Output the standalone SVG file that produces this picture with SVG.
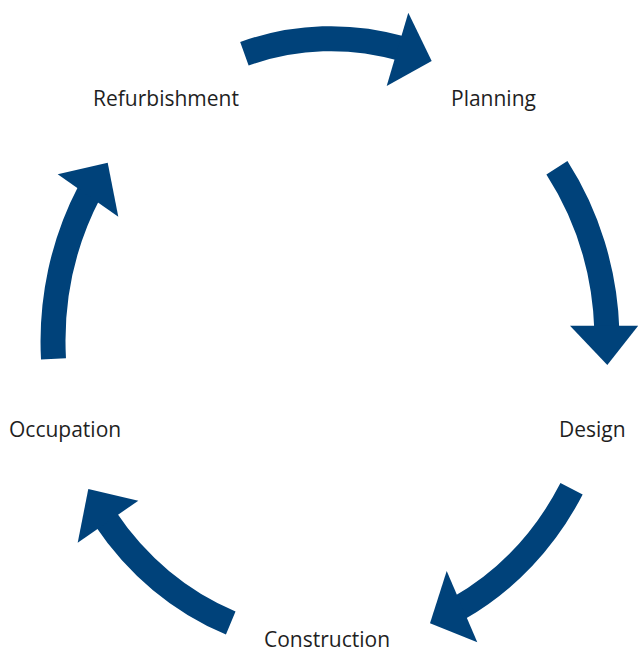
<svg xmlns="http://www.w3.org/2000/svg" width="638" height="652" viewBox="0 0 638 652">
<style>
.shaft{fill:none;stroke:#00427A;stroke-width:25;stroke-linecap:butt}
.head{fill:#00427A}
.lbl{font-family:"Open Sans","Noto Sans","Liberation Sans",sans-serif;font-size:21px;fill:#1f1f1f}
</style>
<rect width="638" height="652" fill="#ffffff"/>
<g id="connectors">
<g id="arrow-refurbishment-planning">
<path class="shaft" d="M244.40,53.78 A277,302 0 0 1 401.6,48.6"/>
<polygon class="head" points="408.3,12.7 431.7,61 386.7,86"/>
</g>
<g id="arrow-planning-design">
<path class="shaft" d="M556.90,167.78 A277,302 0 0 1 606.87,330.46"/>
<polygon class="head" points="570,325.7 638.3,325.7 607.3,365"/>
</g>
<g id="arrow-design-construction">
<path class="shaft" d="M571.56,488.79 A277,302 0 0 1 458.8,608.2"/>
<polygon class="head" points="446.7,571 430,623.3 477.3,642.3"/>
</g>
<g id="arrow-construction-occupation">
<path class="shaft" d="M230.73,622.94 A277,302 0 0 1 105.2,518.3"/>
<polygon class="head" points="138.3,500.7 88.3,489 77.7,542.7"/>
</g>
<g id="arrow-occupation-refurbishment">
<path class="shaft" d="M53.49,358.91 A277,302 0 0 1 89.5,191.7"/>
<polygon class="head" points="57.7,174.3 107.7,162.7 118.3,216.7"/>
</g>
</g>
<g id="node-refurbishment"><text class="lbl" x="93" y="106">Refurbishment</text></g>
<g id="node-planning"><text class="lbl" x="451" y="106">Planning</text></g>
<g id="node-design"><text class="lbl" x="559" y="437">Design</text></g>
<g id="node-construction"><text class="lbl" x="264" y="647">Construction</text></g>
<g id="node-occupation"><text class="lbl" x="9" y="437">Occupation</text></g>
</svg>
